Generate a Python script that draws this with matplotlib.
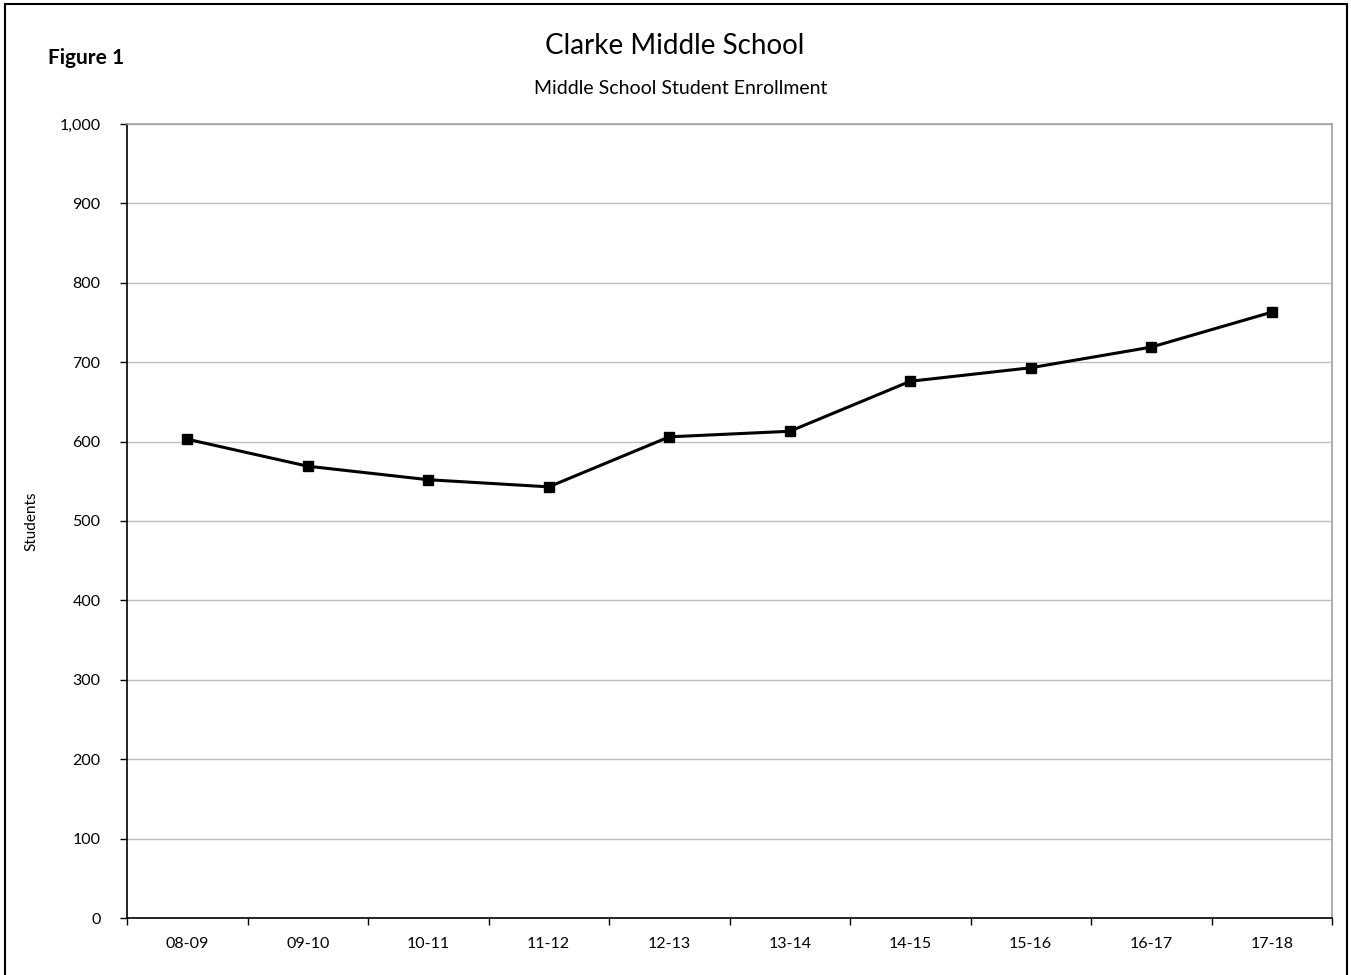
import numpy as np
import matplotlib.pyplot as plt
from matplotlib.patches import Rectangle

plt.rcParams['font.family'] = ['Lato', 'DejaVu Sans']

# Data
years = ["08-09", "09-10", "10-11", "11-12", "12-13",
         "13-14", "14-15", "15-16", "16-17", "17-18"]
students = [603, 569, 552, 543, 606, 613, 676, 693, 719, 763]

W, H = 1351, 975
fig = plt.figure(figsize=(W / 100, H / 100), dpi=100)

# Axes placed to match the plot area
ax = fig.add_axes([127 / W, 1 - 918 / H, (1332 - 127) / W, (918 - 124) / H])

x = np.arange(len(years))
ax.plot(x, students, color='black', linewidth=2.2, marker='s',
        markersize=7, markerfacecolor='black', zorder=3)

ax.set_xlim(-0.5, len(years) - 0.5)
ax.set_ylim(0, 1000)
ax.set_yticks(np.arange(0, 1001, 100))
ax.set_yticklabels([f"{v:,}" for v in range(0, 1001, 100)], fontsize=11.5)
ax.set_xticks(x)
ax.set_xticklabels(years, fontsize=11.5)
ax.set_xticks(np.arange(-0.5, len(years)), minor=True)
ax.tick_params(axis='x', which='major', length=0, pad=14)
ax.tick_params(axis='x', which='minor', length=5, width=1, color='black')
ax.tick_params(axis='y', length=5, width=1, color='black', pad=14)

ax.grid(axis='y', color='#c0c0c0', linewidth=1)
ax.set_axisbelow(True)

for s in ['left', 'bottom']:
    ax.spines[s].set_color('black')
    ax.spines[s].set_linewidth(1.2)
for s in ['top', 'right']:
    ax.spines[s].set_color('#a0a0a0')
    ax.spines[s].set_linewidth(1.2)

ax.set_ylabel("Students", fontsize=11)
ax.yaxis.set_label_coords((38 - 127) / 1205, 0.5)

# Titles
fig.text(675 / W, 1 - 46 / H, "Clarke Middle School", ha='center', va='center', fontsize=20)
fig.text(681 / W, 1 - 88 / H, "Middle School Student Enrollment", ha='center', va='center', fontsize=14)
fig.text(48 / W, 1 - 58 / H, "Figure 1", ha='left', va='center', fontsize=15, fontweight='bold')

# Outer border (bottom edge cut off)
fig.patches.append(Rectangle((5 / W, -0.01), (1347 - 5) / W, 1 - 4 / H + 0.01,
                             transform=fig.transFigure, fill=False,
                             edgecolor='black', linewidth=1.5))

plt.savefig('out.png', dpi=100)
